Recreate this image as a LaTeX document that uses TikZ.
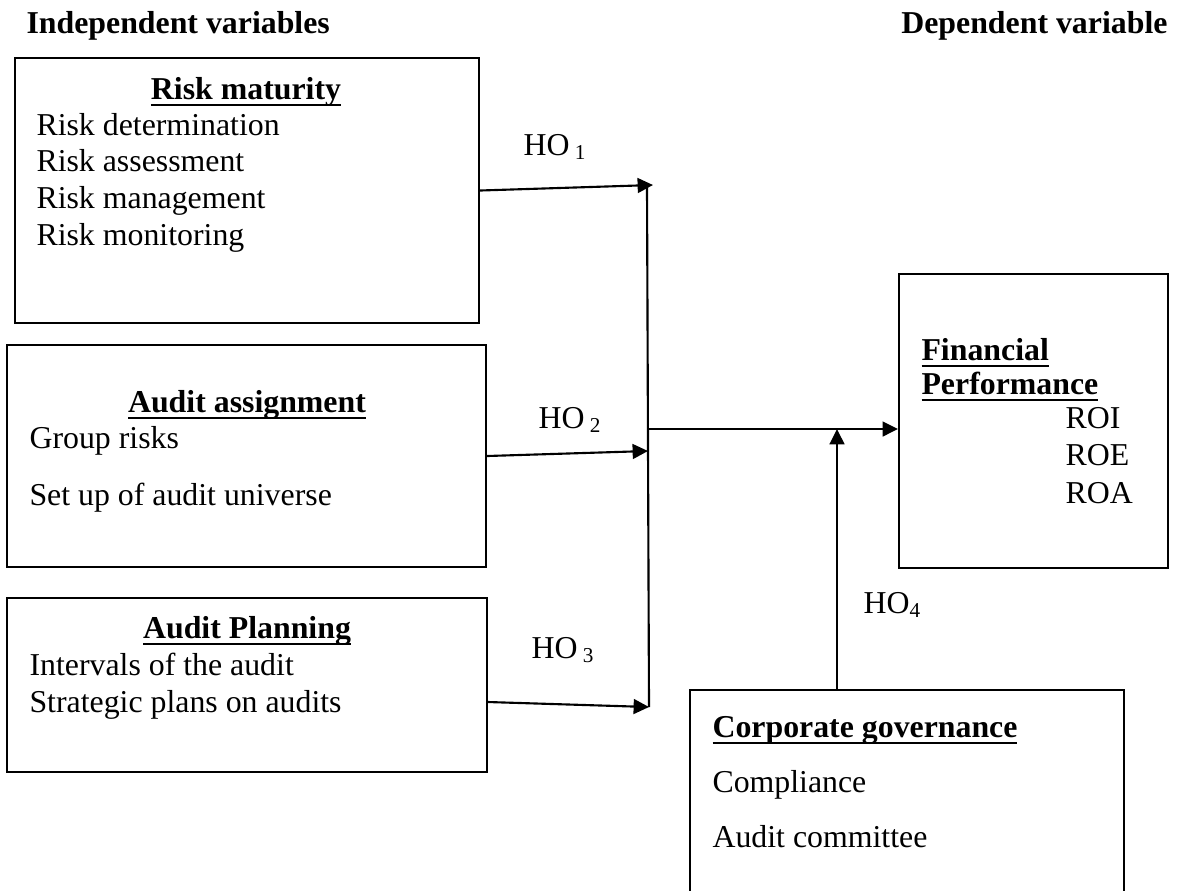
\documentclass[tikz,border=0pt]{standalone}
\usepackage{fontspec}
\setmainfont{Liberation Serif}
\usetikzlibrary{arrows.meta,fit}
\newcommand{\ulhead}[1]{\setbox0=\hbox{\bfseries #1}\rlap{\rule[-2.8pt]{\wd0}{0.9pt}}\box0}
\tikzset{
    var-box/.style = {draw, line width=0.8pt, inner sep=0pt},
    var-text/.style = {anchor=base west, inner sep=0pt, font=\fontsize{12pt}{14pt}\selectfont},
    var-title/.style = {anchor=base, inner sep=0pt, font=\fontsize{12pt}{14pt}\selectfont},
    hyp/.style = {-{Triangle[length=5.8pt,width=5.6pt]}, line width=0.8pt},
}
\begin{document}
\begin{tikzpicture}[x=0.377pt, y=-0.377pt]
\path[use as bounding box] (0,0) rectangle (1186,890);
\clip (0,0) rectangle (1186,890);

% column headings
\node[var-text, font=\fontsize{12pt}{14pt}\selectfont\bfseries] (indep) at (26,33) {Independent variables};
\node[var-text, anchor=base east, font=\fontsize{12pt}{14pt}\selectfont\bfseries] (dep) at (1168,33) {Dependent variable};

% boxes
\node[var-box, fit={(15,58) (479,323)}] (risk) {};
\node[var-box, fit={(7,345) (486,567)}] (assign) {};
\node[var-box, fit={(7,598) (487,772)}] (plan) {};
\node[var-box, fit={(899,274) (1168,568)}] (fin) {};
\node[var-box, fit={(690,690) (1124,940)}] (gov) {};

% risk maturity
\node[var-title] (risk-t) at (246,99) {\ulhead{Risk maturity}};
\foreach \t [count=\i] in {Risk determination, Risk assessment, Risk management, Risk monitoring}
    \node[var-text] (risk-\i) at ({36},{98.3+36.7*\i}) {\t};

% audit assignment
\node[var-title] (assign-t) at (247,412) {\ulhead{Audit assignment}};
\node[var-text] (assign-1) at (29,448) {Group risks};
\node[var-text] (assign-2) at (29,505) {Set up of audit universe};

% audit planning
\node[var-title] (plan-t) at (247,638) {\ulhead{Audit Planning}};
\node[var-text] (plan-1) at (29,675) {Intervals of the audit};
\node[var-text] (plan-2) at (29,712) {Strategic plans on audits};

% financial performance
\node[var-text] (fin-t1) at (921,360) {\ulhead{Financial}};
\node[var-text] (fin-t2) at (921,394) {\ulhead{Performance}};
\node[var-text] (fin-1) at (1065,428) {ROI};
\node[var-text] (fin-2) at (1065,465) {ROE};
\node[var-text] (fin-3) at (1065,503) {ROA};

% corporate governance
\node[var-text] (gov-t) at (712,737) {\ulhead{Corporate governance}};
\node[var-text] (gov-1) at (712,792) {Compliance};
\node[var-text] (gov-2) at (712,847) {Audit committee};

% hypotheses
\coordinate (h1) at (653,185);
\coordinate (top) at (647,187);
\coordinate (h2) at (648,451);
\coordinate (h3) at (649,707);
\coordinate (join) at (648,429);
\coordinate (h4) at (837,429);

\draw[hyp] (risk.east) -- (h1);
\draw[hyp] (assign.east) -- (h2);
\draw[hyp] (plan.east |- 0,702) -- (h3);
\draw[line width=0.8pt] (top) -- (h3);
\draw[hyp] (join) -- (fin.west |- join);
\draw[hyp] (gov.north -| h4) -- (h4);

\node[var-text] (ho1) at (523,155) {HO\,\textsubscript{1}};
\node[var-text] (ho2) at (538,428) {HO\,\textsubscript{2}};
\node[var-text] (ho3) at (531,658) {HO\,\textsubscript{3}};
\node[var-text] (ho4) at (863,613) {HO\textsubscript{4}};
\end{tikzpicture}
\end{document}
